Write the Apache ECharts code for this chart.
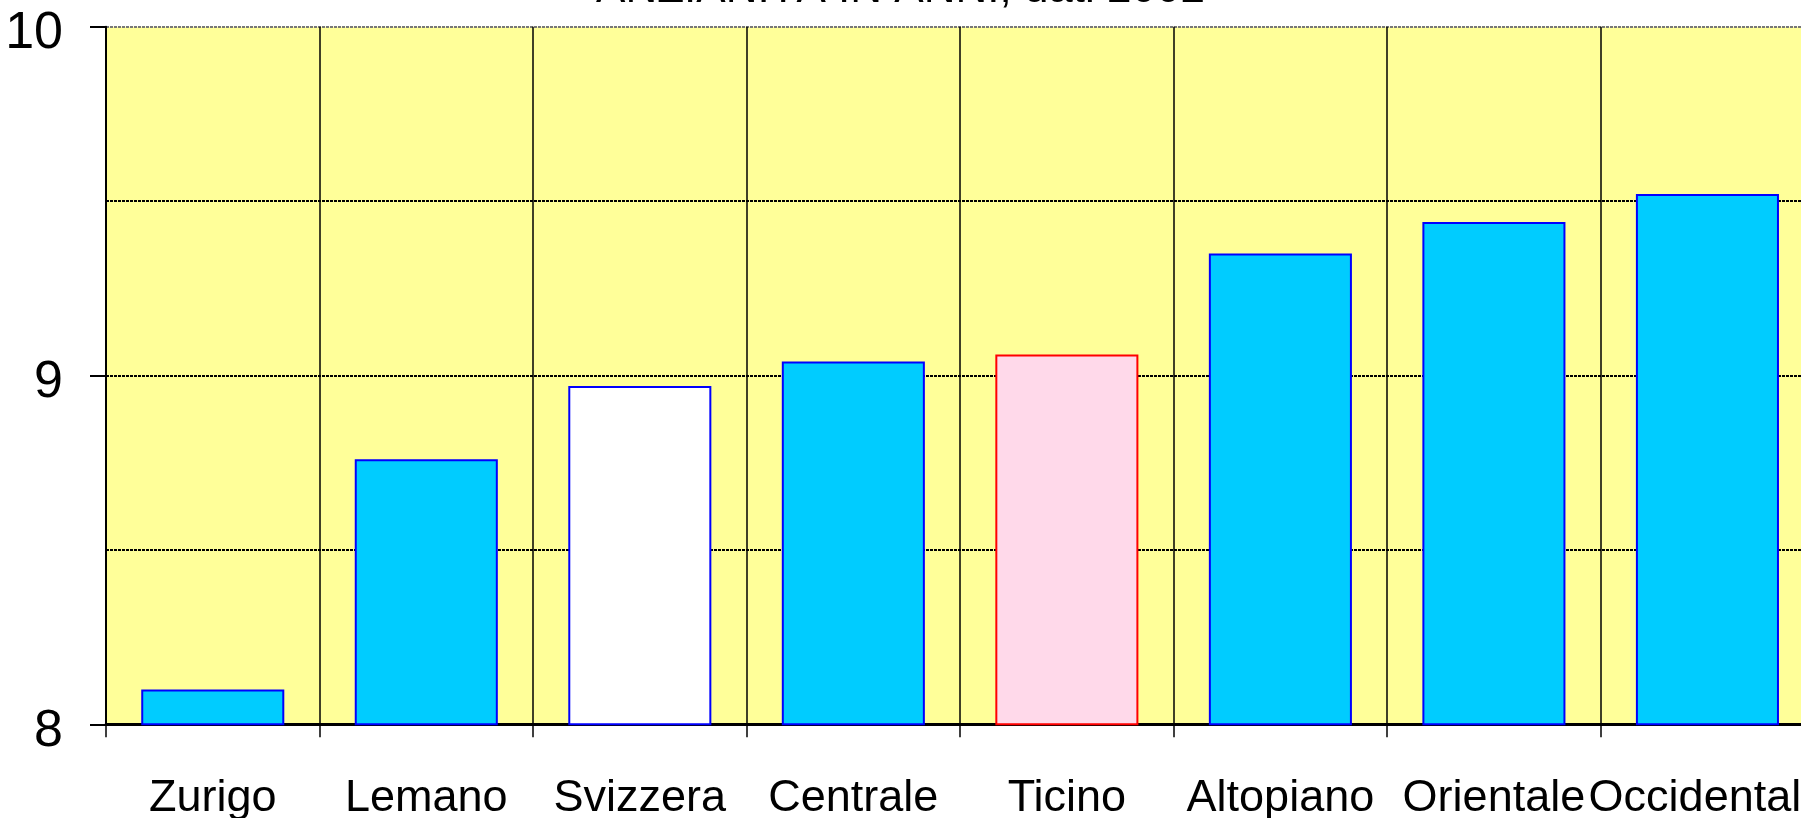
<!DOCTYPE html>
<html>
<head>
<meta charset="utf-8">
<script src="https://cdn.jsdelivr.net/npm/echarts@6/dist/echarts.min.js"></script>
<style>
html,body{margin:0;padding:0;background:#fff;}
#c{width:1801px;height:818px;}
</style>
</head>
<body>
<div id="c"></div>
<script>
const titleText = 'ANZIANITÀ IN ANNI, dati 2002';
const categories = ['Zurigo','Lemano','Svizzera','Centrale','Ticino','Altopiano','Orientale','Occidentale'];
const values = [8.10, 8.76, 8.97, 9.04, 9.06, 9.35, 9.44, 9.52];
const yTicks = [8, 9, 10];

const FONT = '"Liberation Sans", Arial, sans-serif';

const barData = values.map((v, i) => {
  const name = categories[i];
  let style = { color: '#00CCFF', borderColor: '#0000FF', borderWidth: 2 };
  if (name === 'Svizzera') style = { color: '#FFFFFF', borderColor: '#0000FF', borderWidth: 2 };
  if (name === 'Ticino') style = { color: '#FFD9EA', borderColor: '#FF0000', borderWidth: 2 };
  return { value: v, itemStyle: style };
});

const chart = echarts.init(document.getElementById('c'), null, { renderer: 'canvas' });
chart.setOption({
  animation: false,
  backgroundColor: '#FFFFFF',
  title: {
    text: titleText,
    left: 'center',
    top: -37,
    textStyle: { fontFamily: FONT, fontSize: 44, fontWeight: 'normal', color: '#000' }
  },
  grid: {
    left: 106, top: 26.7, width: 1708.2, height: 697.6,
    outerBoundsMode: 'none', containLabel: false,
    show: true, backgroundColor: '#FFFF99', borderWidth: 0
  },
  xAxis: {
    type: 'category',
    data: categories,
    boundaryGap: true,
    axisLine: { show: true, lineStyle: { color: '#000', width: 3 } },
    axisTick: { show: true, alignWithLabel: false, length: 13, lineStyle: { color: '#000', width: 1.5 } },
    axisLabel: { interval: 0, margin: 52, fontFamily: FONT, fontSize: 45, color: '#000' },
    splitLine: { show: true, interval: 0, lineStyle: { color: '#000', width: 1.5, type: 'solid' } }
  },
  yAxis: {
    type: 'value',
    min: yTicks[0],
    max: yTicks[yTicks.length - 1],
    interval: 1,
    axisLine: { show: true, lineStyle: { color: '#000', width: 2 } },
    axisTick: { show: true, inside: false, length: 16, lineStyle: { color: '#000', width: 2 } },
    axisLabel: {
      margin: 43, color: '#000',
      formatter: '{v|{value}}',
      rich: { v: { fontFamily: FONT, fontSize: 52, color: '#000', padding: [14, 0, 0, 0] } }
    },
    splitLine: { show: true, lineStyle: { color: ['#000', '#000', '#777'], width: 2, type: [3, 1] } },
    minorTick: { show: false, splitNumber: 2 },
    minorSplitLine: { show: true, lineStyle: { color: '#000', width: 2, type: [3, 1] } }
  },
  series: [{
    type: 'bar',
    data: barData,
    barCategoryGap: '33%'
  }]
});
</script>
</body>
</html>
